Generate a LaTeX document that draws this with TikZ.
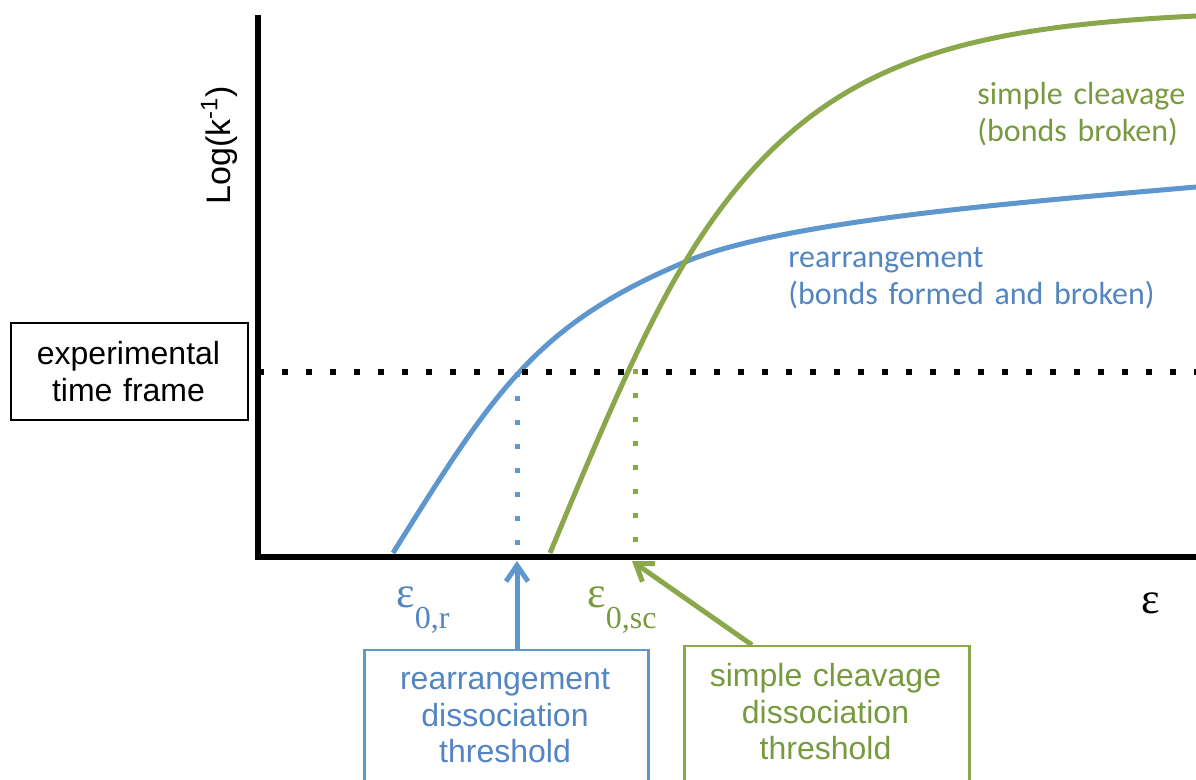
\documentclass[tikz,border=0pt]{standalone}
\usepackage{fontspec}
\setmainfont{Liberation Sans}
\newfontfamily\calib{Carlito}
\newfontfamily\epsfont{Liberation Serif}
\usetikzlibrary{arrows.meta}
\definecolor{cblue}{HTML}{5E96CE}
\definecolor{tblue}{HTML}{5385C3}
\definecolor{cgreen}{HTML}{8AA84B}
\definecolor{tgreen}{HTML}{789A3E}
\begin{document}
\begin{tikzpicture}[x=0.5pt,y=-0.5pt,
  axisline/.style={line width=3pt, line join=miter},
  bcurve/.style={draw=cblue, line width=2.5pt},
  gcurve/.style={draw=cgreen, line width=2.5pt},
  blackdots/.style={line width=3pt, dash pattern=on 3pt off 9pt},
  bdots/.style={draw=cblue, line width=2.5pt, dash pattern=on 2.5pt off 9.5pt},
  gdots/.style={draw=cgreen, line width=2.5pt, dash pattern=on 2.5pt off 9.5pt},
  barrow/.style={draw=cblue, line width=2.5pt, -{Straight Barb[length=8pt,width=11pt]}},
  garrow/.style={draw=cgreen, line width=2.5pt, -{Straight Barb[length=8pt,width=11pt]}},
  boxtext/.style={font=\fontsize{16}{18.25}\selectfont, align=center, text width=140pt, inner sep=0pt, anchor=base},
  curvelabel/.style={font=\calib\fontsize{16}{18.5}\selectfont, align=left, text width=200pt, inner sep=0pt, anchor=base west},
  epslabel/.style={font=\epsfont\fontsize{16}{18}\selectfont, inner sep=0pt, anchor=base west}
]
\useasboundingbox (0,0) rectangle (1196,780);

% curves
\draw[bcurve] (393,553) .. controls (493,393) and (535,325) .. (685,262)
              .. controls (785,220) and (1026,202) .. (1196,187);
\draw[gcurve] (550,553) .. controls (595,445) and (640,336) .. (685,262)
              .. controls (805,64) and (946,28.5) .. (1196,16);

% dotted lines
\coordinate (tfL) at (258,372);
\coordinate (tfR) at (1196,372);
\coordinate (r0) at (517,557);
\coordinate (sc0) at (635,557);
\draw[blackdots] (tfL) -- (tfR);
\draw[bdots] (517,372) -- (r0 |- 0,547);
\draw[gdots] (635,369) -- (sc0 |- 0,546);

% axes
\coordinate (ytop) at (258,15);
\coordinate (origin) at (258,557);
\coordinate (xend) at (1196,557);
\draw[axisline] (ytop) -- (origin) -- (xend);

% axis labels
\node[rotate=90, anchor=base, inner sep=0pt, font=\fontsize{17}{20}\selectfont] (ylab) at (230,145) {Log(k\textsuperscript{-1})};
\node[epslabel] (xlab) at (1141,614) {\fontsize{22}{24}\selectfont ε};

% experimental time frame box
\node[draw, line width=1pt, minimum width=118.5pt, minimum height=48.5pt, anchor=north west, inner sep=0pt] (tfbox) at (10,322) {};
\node[boxtext] (tftext) at (128.5,365) {experimental\\time frame};

% curve labels
\node[curvelabel, text=tgreen] (sclab) at (977,105) {simple cleavage\\(bonds broken)};
\node[curvelabel, text=tblue] (rlab) at (788,268) {rearrangement\\(bonds formed and broken)};

% threshold labels
\node[epslabel, text=tblue] (e0r) at (396,608) {{\fontsize{22}{24}\selectfont ε}\lower10.5pt\hbox{0,r}};
\node[epslabel, text=tgreen] (e0sc) at (587,608) {{\fontsize{22}{24}\selectfont ε}\lower10.5pt\hbox{0,sc}};

% threshold boxes
\node[draw=cblue, line width=1.25pt, minimum width=142pt, minimum height=90pt, anchor=north west, inner sep=0pt] (rbox) at (363,649) {};
\node[boxtext, text=tblue] (rtext) at (505,690) {rearrangement\\dissociation\\threshold};
\node[draw=cgreen, line width=1.25pt, minimum width=142.5pt, minimum height=90pt, anchor=north west, inner sep=0pt] (sbox) at (683,645) {};
\node[boxtext, text=tgreen] (stext) at (825.5,687) {simple cleavage\\dissociation\\threshold};

% arrows
\coordinate (rtip) at (517,561);
\coordinate (stip) at (632,561);
\coordinate (sfrom) at (752,645);
\draw[barrow] (rbox.north -| rtip) -- (rtip);
\draw[garrow] (sfrom) -- (stip);
\end{tikzpicture}
\end{document}
